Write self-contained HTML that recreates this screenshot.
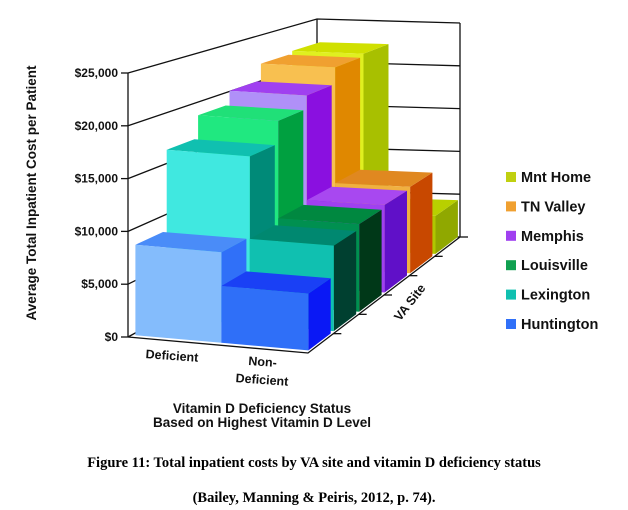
<!DOCTYPE html>
<html><head><meta charset="utf-8">
<style>
body{margin:0;background:#fff;width:628px;height:510px;overflow:hidden}
svg{display:block}
.t{font-family:"Liberation Sans",sans-serif;font-weight:bold;fill:#111}
.cap{font-family:"Liberation Serif",serif;font-weight:bold;font-size:14.5px;fill:#000}
</style></head><body>
<svg id="chart" width="628" height="510" viewBox="0 0 628 510" xmlns="http://www.w3.org/2000/svg">
<g id="walls"></g>
<g id="bars"></g>
<g id="axes"></g>
<text class="t" transform="translate(36,193) rotate(-90)" text-anchor="middle" font-size="13.5" fill="#333">Average Total Inpatient Cost per Patient</text>
<text class="t" x="172" y="360" text-anchor="middle" font-size="12.5" transform="rotate(4 172 356)">Deficient</text>
<text class="t" x="262" y="366" text-anchor="middle" font-size="12.5" transform="rotate(4 262 370)">Non-</text>
<text class="t" x="262" y="384" text-anchor="middle" font-size="12.5" transform="rotate(4 262 380)">Deficient</text>
<text class="t" transform="translate(413,305) rotate(-52)" text-anchor="middle" font-size="12.5">VA Site</text>
<text class="t" x="262" y="413" text-anchor="middle" font-size="13.5" fill="#444">Vitamin D Deficiency Status</text>
<text class="t" x="262" y="427" text-anchor="middle" font-size="13.5" fill="#444">Based on Highest Vitamin D Level</text>
<text class="cap" x="314" y="467" text-anchor="middle">Figure 11: Total inpatient costs by VA site and vitamin D deficiency status</text>
<text class="cap" x="314" y="502" text-anchor="middle">(Bailey, Manning &amp; Peiris, 2012, p. 74).</text>
<g id="legend"></g>
</svg>
<script>
const sites = ["Huntington","Lexington","Louisville","Memphis","TN Valley","Mnt Home"];
const categories = ["Deficient","Non-Deficient"];
const deficientValues = [8600,16500,18800,20200,22000,22300];
const nonDeficientValues = [5400,8400,8900,9200,9400,4300];
const yTicks = [0,5000,10000,15000,20000,25000];
const yTickLabels = ["$0","$5,000","$10,000","$15,000","$20,000","$25,000"];
const legendColors = ["#3070f8","#10c0b0","#10a050","#a040f0","#f0a030","#c0d010"];
const defColors = [["#84bcfc","#4a8cf8","#3070f8"],["#40e8e0","#10c0b0","#008a78"],["#20e880","#20e078","#00a040"],["#b090f8","#a040f0","#8a10e0"],["#f8c050","#f0a030","#e08800"],["#e0f020","#d0e000","#a8c000"]];
const ndColors = [["#2f6ff8","#1a40f5","#0a18f5"],["#10c0b0","#008870","#004030"],["#009050","#008840","#003818"],["#a040f0","#a848f0","#6010c8"],["#f0b040","#e08820","#c84800"],["#b0c800","#b8d000","#90a800"]];

const NS="http://www.w3.org/2000/svg";
const FL=[128,337],FR=[308,353],BL=[317,233],BR=[460,237];
function P(u,t,v){
  const a=u/2;
  const fx=FL[0]+(FR[0]-FL[0])*a, fy=FL[1]+(FR[1]-FL[1])*a;
  const bx=BL[0]+(BR[0]-BL[0])*a, by=BL[1]+(BR[1]-BL[1])*a;
  const sc=(10.56-2.0*t)/1000;
  return [fx+(bx-fx)*t, fy+(by-fy)*t - v*sc];
}
function el(tag,attrs,parent){const e=document.createElementNS(NS,tag);for(const k in attrs)e.setAttribute(k,attrs[k]);parent.appendChild(e);return e;}
function pts(a){return a.map(p=>p[0].toFixed(1)+","+p[1].toFixed(1)).join(" ");}
const walls=document.getElementById('walls'),bars=document.getElementById('bars'),axes=document.getElementById('axes'),legend=document.getElementById('legend');
yTicks.forEach((v,i)=>{
  const l=el('polyline',{points:pts([P(0,0,v),P(0,1,v),P(2,1,v)]),fill:'none',stroke:'#111','stroke-width':1.3},walls);
  
  
  const tk=el('line',{x1:P(0,0,v)[0]-7,y1:P(0,0,v)[1],x2:P(0,0,v)[0],y2:P(0,0,v)[1],stroke:'#111','stroke-width':1.3},axes);
  
  
  const tx=el('text',{x:P(0,0,v)[0]-10,y:P(0,0,v)[1]+4,'text-anchor':'end','font-size':12,class:'t'},axes);
  tx.textContent=yTickLabels[i];
  
  
});
[[0,0],[0,1],[2,1]].forEach((c,i)=>{
  const l=el('line',{x1:P(c[0],c[1],0)[0],y1:P(c[0],c[1],0)[1],x2:P(c[0],c[1],25000)[0],y2:P(c[0],c[1],25000)[1],stroke:'#111','stroke-width':1.3},walls);
  
  
});
function box(u0,u1,t0,t1,h,c,name){
  const g=el('g',{},bars);
  
  
  el('polygon',{points:pts([P(u1,t0,0),P(u1,t1,0),P(u1,t1,h),P(u1,t0,h)]),fill:c[2]},g);
  el('polygon',{points:pts([P(u0,t0,h),P(u1,t0,h),P(u1,t1,h),P(u0,t1,h)]),fill:c[1]},g);
  el('polygon',{points:pts([P(u0,t0,0),P(u1,t0,0),P(u1,t0,h),P(u0,t0,h)]),fill:c[0]},g);
}
for(let i=sites.length-1;i>=0;i--){
  const t0=(i+0.12)/6,t1=(i+1.0)/6;
  box(0.04,1,t0,t1,deficientValues[i],defColors[i],'bar-deficient-'+sites[i].toLowerCase().replace(/ /g,'-'));
  box(1,1.97,t0,t1,nonDeficientValues[i],ndColors[i],'bar-non-deficient-'+sites[i].toLowerCase().replace(/ /g,'-'));
}
const fa=el('polyline',{points:pts([P(0,0,0),P(2,0,0),P(2,1,0)]),fill:'none',stroke:'#111','stroke-width':1.3},axes);


for(let k=1;k<=6;k++){
  const p=P(2,k/6,0);
  const tk=el('line',{x1:p[0],y1:p[1],x2:p[0]+8,y2:p[1],stroke:'#111','stroke-width':1.3},axes);
  
  
}
for(let i=0;i<sites.length;i++){
  const y=329-(i)*29.4;
  const g=el('g',{},legend);
  
  
  el('rect',{x:506,y:y-10,width:10,height:10,fill:legendColors[i]},g);
  const tx=el('text',{x:521,y:y,'font-size':14.5,class:'t'},g);
  tx.textContent=sites[i];
}
</script>
</body></html>
